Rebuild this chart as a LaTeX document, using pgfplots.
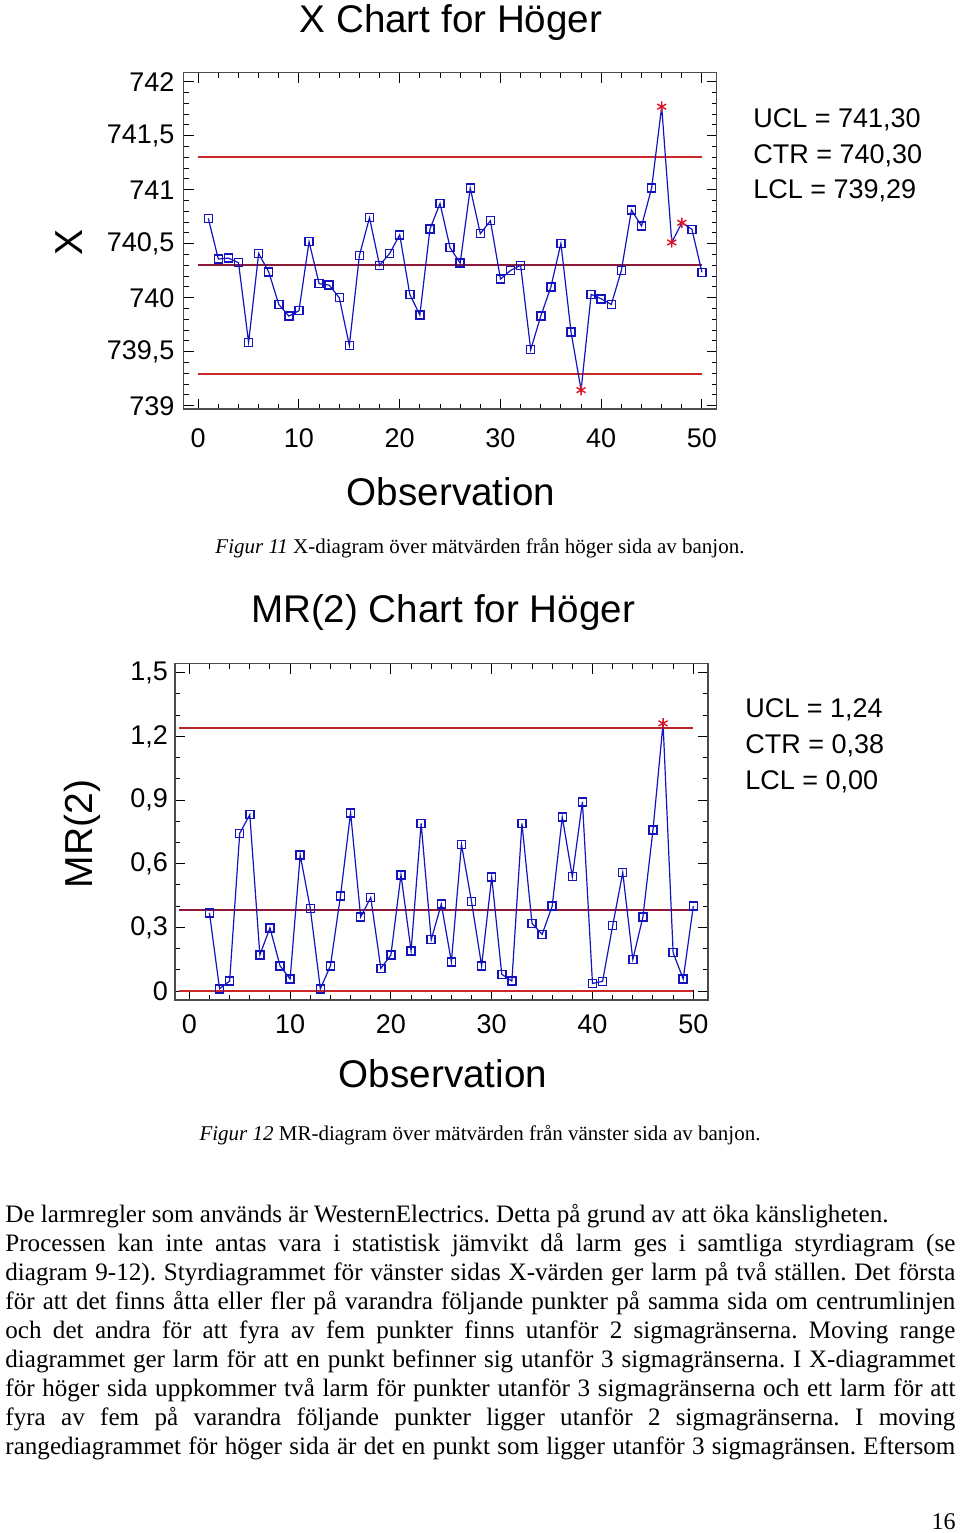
\documentclass[border=0pt]{standalone}
\usepackage{fontspec}
\setmainfont{Liberation Serif}
\newfontfamily\arial{Liberation Sans}
\usepackage{pgfplots}
\usepackage{pgfplotstable}
\pgfplotsset{compat=1.18}

\definecolor{ptblue}{RGB}{20,20,190}
\definecolor{uclred}{RGB}{205,40,40}
\definecolor{ctrred}{RGB}{140,25,55}
\definecolor{alarm}{RGB}{220,20,40}

\pgfplotstableread{
n x
1 740.735
2 740.358
3 740.367
4 740.324
5 739.586
6 740.410
7 740.238
8 739.938
9 739.830
10 739.880
11 740.519
12 740.130
13 740.117
14 740.000
15 739.559
16 740.392
17 740.741
18 740.300
19 740.410
20 740.583
21 740.031
22 739.840
23 740.636
24 740.873
25 740.463
26 740.320
27 741.015
28 740.593
29 740.713
30 740.173
31 740.253
32 740.300
33 739.519
34 739.830
35 740.099
36 740.503
37 739.685
38 739.145
39 740.031
40 739.990
41 739.938
42 740.253
43 740.812
44 740.664
45 741.015
46 741.769
47 740.512
48 740.694
49 740.633
50 740.235
}\xdata

\pgfplotstableread{
n x
1 740.735
2 740.358
3 740.367
4 740.324
5 739.586
6 740.410
7 740.238
8 739.938
9 739.830
10 739.880
11 740.519
12 740.130
13 740.117
14 740.000
15 739.559
16 740.392
17 740.741
18 740.300
19 740.410
20 740.583
21 740.031
22 739.840
23 740.636
24 740.873
25 740.463
26 740.320
27 741.015
28 740.593
29 740.713
30 740.173
31 740.253
32 740.300
33 739.519
34 739.830
35 740.099
36 740.503
37 739.685
39 740.031
40 739.990
41 739.938
42 740.253
43 740.812
44 740.664
45 741.015
49 740.633
50 740.235
}\xnormal

\pgfplotstableread{
n x
38 739.145
46 741.769
47 740.512
48 740.694
}\xalarm

\pgfplotstableread{
n mr
2 0.368
3 0.011
4 0.047
5 0.743
6 0.831
7 0.170
8 0.298
9 0.119
10 0.057
11 0.641
12 0.390
13 0.011
14 0.119
15 0.449
16 0.840
17 0.349
18 0.441
19 0.107
20 0.170
21 0.548
22 0.190
23 0.790
24 0.242
25 0.410
26 0.138
27 0.691
28 0.421
29 0.119
30 0.537
31 0.079
32 0.047
33 0.790
34 0.319
35 0.267
36 0.400
37 0.820
38 0.539
39 0.891
40 0.036
41 0.046
42 0.308
43 0.559
44 0.149
45 0.349
46 0.759
47 1.261
48 0.181
49 0.057
50 0.400
}\mrdata

\pgfplotstableread{
n mr
2 0.368
3 0.011
4 0.047
5 0.743
6 0.831
7 0.170
8 0.298
9 0.119
10 0.057
11 0.641
12 0.390
13 0.011
14 0.119
15 0.449
16 0.840
17 0.349
18 0.441
19 0.107
20 0.170
21 0.548
22 0.190
23 0.790
24 0.242
25 0.410
26 0.138
27 0.691
28 0.421
29 0.119
30 0.537
31 0.079
32 0.047
33 0.790
34 0.319
35 0.267
36 0.400
37 0.820
38 0.539
39 0.891
40 0.036
41 0.046
42 0.308
43 0.559
44 0.149
45 0.349
46 0.759
48 0.181
49 0.057
50 0.400
}\mrnormal

\pgfplotstableread{
n mr
47 1.261
}\mralarm

\pgfplotsset{
  spcstyle/.style={
    scale only axis,
    anchor=north west,
    width=266.5pt, height=168.25pt,
    tick align=inside,
    major tick length=5pt,
    minor tick length=2.5pt,
    axis line style={black!70, line width=0.8pt},
    tick style={black, line width=0.5pt},
    ticklabel style={font=\arial\fontsize{13.5}{16}\selectfont},
    xtick={0,10,20,30,40,50},
    minor x tick num=4,
    /pgf/number format/.cd, use comma, 1000 sep={}, assume math mode=true,
  },
  sqmarks/.style={ptblue, only marks, mark=square, mark size=2pt, mark options={line width=0.75pt, fill=none}},
  starmarks/.style={alarm, only marks, mark=asterisk, mark size=2.6pt, mark options={line width=0.7pt}},
  dataline/.style={ptblue, line width=0.6pt, mark=none},
}

\begin{document}
\frenchspacing
\begin{tikzpicture}
\path[use as bounding box] (0,0) rectangle (480pt,-766.5pt);

% ---------------- X chart ----------------
\begin{axis}[spcstyle,
  at={(91.75pt,-36.25pt)},
  xmin=-1.46, xmax=51.44,
  ymin=738.97, ymax=742.085,
  ytick={739,739.5,740,740.5,741,741.5,742},
  minor y tick num=4,
  xticklabel style={yshift=-6.5pt},
  yticklabel style={xshift=-1pt},
]
\addplot[uclred, line width=1pt] coordinates {(0,741.30) (50,741.30)};
\addplot[ctrred, line width=1pt] coordinates {(0,740.30) (50,740.30)};
\addplot[uclred, line width=1pt] coordinates {(0,739.29) (50,739.29)};
\addplot[dataline] table[x=n, y=x] {\xdata};
\addplot[sqmarks] table[x=n, y=x] {\xnormal};
\addplot[starmarks] table[x=n, y=x] {\xalarm};
\end{axis}

% ---------------- MR chart ----------------
\begin{axis}[spcstyle,
  at={(87.5pt,-331.75pt)},
  xmin=-1.42, xmax=51.46,
  ymin=-0.042, ymax=1.543,
  ytick={0,0.3,0.6,0.9,1.2,1.5},
  minor y tick num=2,
  xticklabel style={yshift=-4pt},
]
\addplot[uclred!90!black, line width=1pt] coordinates {(-1,1.24) (50,1.24)};
\addplot[ctrred, line width=1pt] coordinates {(-1,0.38) (50,0.38)};
\addplot[uclred, line width=1pt] coordinates {(-1,0) (50,0)};
\addplot[dataline] table[x=n, y=mr] {\mrdata};
\addplot[sqmarks] table[x=n, y=mr] {\mrnormal};
\addplot[starmarks] table[x=n, y=mr] {\mralarm};
\end{axis}

\begin{scope}[x=0.5pt, y=-0.5pt]
% X chart texts
\node[anchor=base, inner sep=0, font=\arial\fontsize{19.3}{23}\selectfont] at (451,32) {X Chart for Höger};
\node[rotate=90, inner sep=0, font=\arial\fontsize{19.5}{23}\selectfont] at (69,242) {X};
\node[anchor=base, inner sep=0, font=\arial\fontsize{19.3}{23}\selectfont] at (451,505) {Observation};
\begin{scope}[every node/.style={anchor=base west, inner sep=0, font=\arial\fontsize{13.5}{16}\selectfont}]
\node at (753,127) {UCL = 741,30};
\node at (753,163) {CTR = 740,30};
\node at (753,198) {LCL = 739,29};
\end{scope}
\node[anchor=base, inner sep=0, font=\fontsize{10.5}{12}\selectfont] at (480,553) {\textit{Figur 11} X-diagram över mätvärden från höger sida av banjon.};

% MR chart texts
\node[anchor=base, inner sep=0, font=\arial\fontsize{19.3}{23}\selectfont] at (443,622) {MR(2) Chart for Höger};
\node[rotate=90, inner sep=0, font=\arial\fontsize{19.5}{23}\selectfont] at (82,834) {MR(2)};
\node[anchor=base, inner sep=0, font=\arial\fontsize{19.3}{23}\selectfont] at (443,1087) {Observation};
\begin{scope}[every node/.style={anchor=base west, inner sep=0, font=\arial\fontsize{13.5}{16}\selectfont}]
\node at (745,717) {UCL = 1,24};
\node at (745,753) {CTR = 0,38};
\node at (745,789) {LCL = 0,00};
\end{scope}
\node[anchor=base, inner sep=0, font=\fontsize{10.5}{12}\selectfont] at (480,1140) {\textit{Figur 12} MR-diagram över mätvärden från vänster sida av banjon.};

% body text
\begin{scope}[every node/.style={anchor=base west, inner sep=0, font=\fontsize{12.55}{14.5}\selectfont}]
\node at (5,1222) {De larmregler som används är WesternElectrics. Detta på grund av att öka känsligheten.};
\node at (5,1251) {\makebox[475pt][s]{Processen kan inte antas vara i statistisk jämvikt då larm ges i samtliga styrdiagram (se}};
\node at (5,1280) {\makebox[475pt][s]{diagram 9-12). Styrdiagrammet för vänster sidas X-värden ger larm på två ställen. Det första}};
\node at (5,1309) {\makebox[475pt][s]{för att det finns åtta eller fler på varandra följande punkter på samma sida om centrumlinjen}};
\node at (5,1338) {\makebox[475pt][s]{och det andra för att fyra av fem punkter finns utanför 2 sigmagränserna. Moving range}};
\node at (5,1367) {\makebox[475pt][s]{diagrammet ger larm för att en punkt befinner sig utanför 3 sigmagränserna. I X-diagrammet}};
\node at (5,1396) {\makebox[475pt][s]{för höger sida uppkommer två larm för punkter utanför 3 sigmagränserna och ett larm för att}};
\node at (5,1425) {\makebox[475pt][s]{fyra av fem på varandra följande punkter ligger utanför 2 sigmagränserna. I moving}};
\node at (5,1454) {\makebox[475pt][s]{rangediagrammet för höger sida är det en punkt som ligger utanför 3 sigmagränsen. Eftersom}};
\end{scope}
\node[anchor=base east, inner sep=0, font=\fontsize{12}{14}\selectfont] at (956,1529) {16};
\end{scope}
\end{tikzpicture}
\end{document}
